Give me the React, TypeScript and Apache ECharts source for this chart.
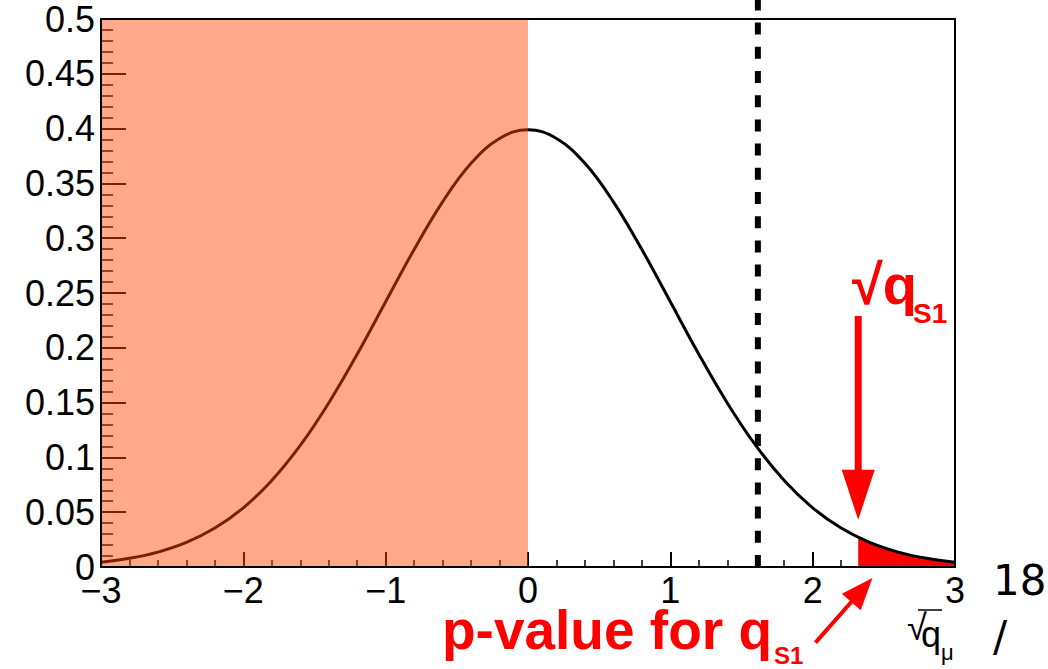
import React, { useEffect, useRef } from "react";
import * as echarts from "echarts";

// Test-statistic distribution, read at steps of 0.2
const CURVE_X = [
  -3, -2.8, -2.6, -2.4, -2.2, -2, -1.8, -1.6, -1.4, -1.2, -1, -0.8, -0.6, -0.4, -0.2, 0,
  0.2, 0.4, 0.6, 0.8, 1, 1.2, 1.4, 1.6, 1.8, 2, 2.2, 2.4, 2.6, 2.8, 3,
];
const CURVE_Y = [
  0.0044, 0.0079, 0.0136, 0.0224, 0.0355, 0.054, 0.079, 0.1109, 0.1497, 0.1942, 0.242,
  0.2897, 0.3332, 0.3683, 0.391, 0.3989, 0.391, 0.3683, 0.3332, 0.2897, 0.242, 0.1942,
  0.1497, 0.1109, 0.079, 0.054, 0.0355, 0.0224, 0.0136, 0.0079, 0.0044,
];

// Tail beyond the observed value (p-value region)
const TAIL_X = [2.32, 2.4, 2.6, 2.8, 3];
const TAIL_Y = [0.027, 0.0224, 0.0136, 0.0079, 0.0044];

// Shaded band and markers
const SHADE_RANGE = [-3, 0];
const THRESHOLD_X = 1.615;
const OBS_ARROW = [2.32, 0.229, 2.32, 0.043];
const PVAL_ARROW = [2.02, -0.069, 2.42, -0.01];

const X_MIN = -3;
const X_MAX = 3;
const Y_MIN = 0;
const Y_MAX = 0.5;

const SANS = '"Liberation Sans", Arial, Helvetica, sans-serif';

function arrowRenderer(shaftW: number, headLen: number, headW: number) {
  return (_params: any, api: any) => {
    const a = api.coord([api.value(0), api.value(1)]);
    const b = api.coord([api.value(2), api.value(3)]);
    const dx = b[0] - a[0];
    const dy = b[1] - a[1];
    const len = Math.hypot(dx, dy);
    const ux = dx / len;
    const uy = dy / len;
    const nx = -uy;
    const ny = ux;
    const bx = b[0] - ux * headLen;
    const by = b[1] - uy * headLen;
    const sx = bx + ux * 2;
    const sy = by + uy * 2;
    const hs = shaftW / 2;
    const hh = headW / 2;
    return {
      type: "group",
      children: [
        {
          type: "polygon",
          shape: {
            points: [
              [a[0] + nx * hs, a[1] + ny * hs],
              [sx + nx * hs, sy + ny * hs],
              [sx - nx * hs, sy - ny * hs],
              [a[0] - nx * hs, a[1] - ny * hs],
            ],
          },
          style: { fill: "#ff0000" },
        },
        {
          type: "polygon",
          shape: {
            points: [
              [b[0], b[1]],
              [bx + nx * hh, by + ny * hh],
              [bx - nx * hh, by - ny * hh],
            ],
          },
          style: { fill: "#ff0000" },
        },
      ],
    };
  };
}

export default function App() {
  const ref = useRef<HTMLDivElement>(null);

  useEffect(() => {
    if (!ref.current) return;
    const chart = echarts.init(ref.current, undefined, { renderer: "svg" });

    const curve = CURVE_X.map((x, i) => [x, CURVE_Y[i]]);
    const tail = TAIL_X.map((x, i) => [x, TAIL_Y[i]]);

    const option: any = {
      animation: false,
      backgroundColor: "#ffffff",
      grid: { left: 101, right: 93, top: 19, bottom: 102, containLabel: false },
      xAxis: {
        type: "value",
        min: X_MIN,
        max: X_MAX,
        interval: 1,
        axisLine: { show: false, onZero: false },
        splitLine: { show: false },
        axisTick: { show: true, inside: true, length: 15, lineStyle: { color: "#000", width: 2 } },
        minorTick: { show: true, splitNumber: 5, length: 7, lineStyle: { color: "#000", width: 1.5 } },
        axisLabel: {
          color: "#000",
          fontFamily: SANS,
          fontSize: 36,
          margin: 5,
          formatter: (v: number) => (v < 0 ? "\u2212" + Math.abs(v) : String(v)),
        },
      },
      yAxis: {
        type: "value",
        min: Y_MIN,
        max: Y_MAX,
        interval: 0.05,
        axisLine: { show: false, onZero: false },
        splitLine: { show: false },
        axisTick: { show: true, inside: true, length: 25, lineStyle: { color: "#000", width: 2 } },
        minorTick: { show: true, splitNumber: 5, length: 12, lineStyle: { color: "#000", width: 1.5 } },
        axisLabel: { color: "#000", fontFamily: SANS, fontSize: 36, margin: 6 },
      },
      series: [
        {
          name: "p-value",
          type: "line",
          data: tail,
          smooth: 0.4,
          showSymbol: false,
          lineStyle: { width: 0 },
          areaStyle: { color: "#ff0000", opacity: 1 },
          z: 2,
          silent: true,
        },
        {
          name: "f(q)",
          type: "line",
          data: curve,
          smooth: 0.4,
          showSymbol: false,
          lineStyle: { color: "#000", width: 3 },
          z: 3,
          silent: true,
        },
        {
          name: "threshold",
          type: "custom",
          clip: false,
          z: 4,
          data: [[THRESHOLD_X, Y_MIN]],
          renderItem: (_p: any, api: any) => {
            const p = api.coord([api.value(0), api.value(1)]);
            return {
              type: "line",
              shape: { x1: p[0], y1: p[1], x2: p[0], y2: 0 },
              style: { stroke: "#000", lineWidth: 6, lineDash: [12, 12.2] },
            };
          },
        },
        {
          name: "shade",
          type: "custom",
          clip: false,
          z: 10,
          data: [[SHADE_RANGE[0], SHADE_RANGE[1]]],
          renderItem: (_p: any, api: any) => {
            const a = api.coord([api.value(0), Y_MAX]);
            const b = api.coord([api.value(1), Y_MIN]);
            return {
              type: "rect",
              shape: { x: a[0], y: a[1], width: b[0] - a[0], height: b[1] - a[1] },
              style: { fill: "rgba(255,72,6,0.47)" },
            };
          },
        },
        {
          name: "frame",
          type: "custom",
          clip: false,
          z: 20,
          data: [[X_MIN, Y_MAX, X_MAX, Y_MIN]],
          encode: { x: [0, 2], y: [1, 3] },
          renderItem: (_p: any, api: any) => {
            const a = api.coord([api.value(0), api.value(1)]);
            const b = api.coord([api.value(2), api.value(3)]);
            return {
              type: "rect",
              shape: { x: a[0], y: a[1], width: b[0] - a[0], height: b[1] - a[1] },
              style: { fill: "none", stroke: "#000", lineWidth: 2 },
            };
          },
        },
        {
          name: "observed",
          type: "custom",
          clip: false,
          z: 21,
          data: [OBS_ARROW],
          encode: { x: [0, 2], y: [1, 3] },
          renderItem: arrowRenderer(7, 50, 33),
        },
        {
          name: "pointer",
          type: "custom",
          clip: false,
          z: 21,
          data: [PVAL_ARROW],
          encode: { x: [0, 2], y: [1, 3] },
          renderItem: arrowRenderer(4, 32, 25),
        },
      ],
      graphic: [
        {
          type: "text",
          x: 852,
          y: 284,
          style: { text: "\u221Aq", fontFamily: SANS, fontWeight: "bold", fontSize: 56, fill: "#ff0000", verticalAlign: "middle" },
        },
        {
          type: "text",
          x: 913,
          y: 313,
          style: { text: "S1", fontFamily: SANS, fontWeight: "bold", fontSize: 28, fill: "#ff0000", verticalAlign: "middle" },
        },
        {
          type: "text",
          x: 442,
          y: 630,
          style: { text: "p-value for q", fontFamily: SANS, fontWeight: "bold", fontSize: 55, fill: "#ff0000", verticalAlign: "middle" },
        },
        {
          type: "text",
          x: 774,
          y: 655,
          style: { text: "S1", fontFamily: SANS, fontWeight: "bold", fontSize: 24, fill: "#ff0000", verticalAlign: "middle" },
        },
        {
          type: "text",
          x: 907,
          y: 627,
          style: { text: "\u221A", fontFamily: SANS, fontSize: 36, fill: "#000", verticalAlign: "middle" },
        },
        {
          type: "line",
          shape: { x1: 918, y1: 610, x2: 942, y2: 610 },
          style: { stroke: "#000", lineWidth: 1.5 },
        },
        {
          type: "text",
          x: 921,
          y: 634,
          style: { text: "q", fontFamily: SANS, fontSize: 36, fill: "#000", verticalAlign: "middle" },
        },
        {
          type: "text",
          x: 941,
          y: 652,
          style: { text: "\u03BC", fontFamily: SANS, fontSize: 22, fill: "#000", verticalAlign: "middle" },
        },
        {
          type: "text",
          x: 993,
          y: 580,
          style: { text: "18", fontFamily: '"DejaVu Sans", sans-serif', fontSize: 42, fill: "#000", verticalAlign: "middle" },
        },
        {
          type: "text",
          x: 993,
          y: 636,
          style: { text: "/", fontFamily: '"DejaVu Sans", sans-serif', fontSize: 42, fill: "#000", verticalAlign: "middle" },
        },
      ],
    };

    chart.setOption(option);
    return () => chart.dispose();
  }, []);

  return (
    <div
      ref={ref}
      style={{ position: "fixed", left: 0, top: 0, width: 1048, height: 669, background: "#fff" }}
    />
  );
}
